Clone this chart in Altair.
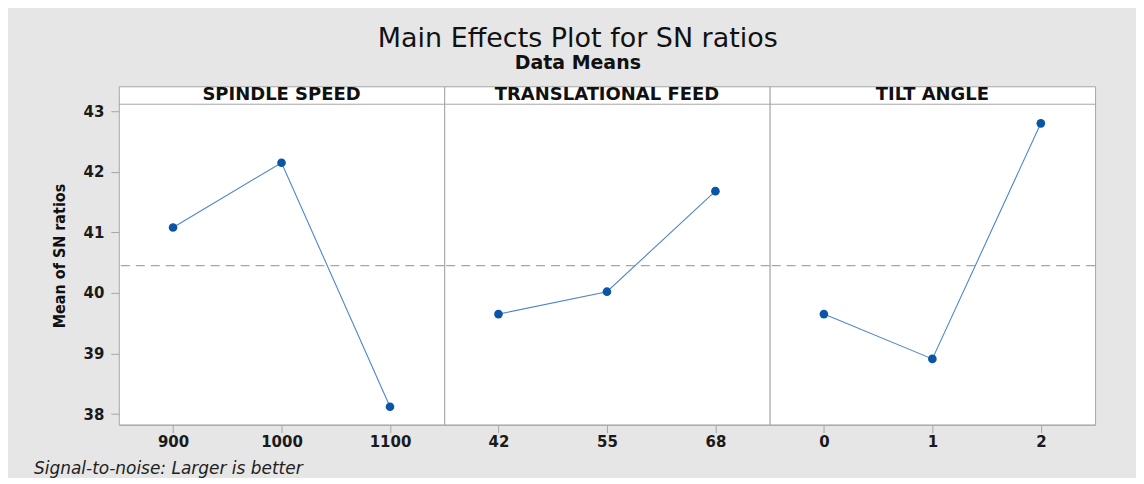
import altair as alt
import pandas as pd

# ---- data ----
factors = ["SPINDLE SPEED", "TRANSLATIONAL FEED", "TILT ANGLE"]
spindle_levels = ["900", "1000", "1100"]
spindle_sn = [41.08, 42.15, 38.12]
feed_levels = ["42", "55", "68"]
feed_sn = [39.65, 40.02, 41.68]
tilt_levels = ["0", "1", "2"]
tilt_sn = [39.65, 38.91, 42.80]
overall_mean = [40.45]
y_ticks = [38, 39, 40, 41, 42, 43]
footer_text = ["Signal-to-noise: Larger is better"]

# ---- layout / style ----
Y_DOMAIN = [37.824, 43.412]
W, H = 326, 339
STRIP = 18
FONT = "DejaVu Sans"
NARROW = "Liberation Sans Narrow, DejaVu Sans Condensed, sans-serif"
GRAY = "#a6a6a6"
LINE_C = "#4f86c9"
PT_C = "#0b55a6"
TXT = "#111111"


def panel(name, levels, values, first):
    df = pd.DataFrame({"level": levels, "sn": values})
    x = alt.X(
        "level:N",
        sort=levels,
        scale=alt.Scale(type="point", padding=0.5),
        axis=alt.Axis(title=None, labelAngle=0, labelFontSize=15, labelFontWeight="bold",
                      labelColor="#1a1a1a", labelFont=FONT, tickSize=8, tickColor=GRAY,
                      domainColor=GRAY, labelPadding=2),
    )
    yscale = alt.Scale(domain=Y_DOMAIN, nice=False, zero=False)
    if first:
        yaxis = alt.Axis(values=y_ticks, title="Mean of SN ratios", titleFontSize=16,
                         titleFont=NARROW, titleFontWeight="bold", titleColor=TXT,
                         labelFontSize=15, labelFont=FONT, labelFontWeight="bold",
                         labelColor="#1a1a1a", tickSize=8, tickColor=GRAY, domain=False,
                         grid=False, labelPadding=7, titlePadding=16)
    else:
        yaxis = None
    y = alt.Y("sn:Q", scale=yscale, axis=yaxis)

    base = alt.Chart(df)
    line = base.mark_line(color=LINE_C, strokeWidth=1.1).encode(x=x, y=y)
    pts = base.mark_circle(color=PT_C, size=75, opacity=1).encode(x=x, y=y)
    mean_df = pd.DataFrame({"m": overall_mean})
    mean_rule = alt.Chart(mean_df).mark_rule(color=GRAY, strokeDash=[9, 6], strokeWidth=1.2).encode(
        y=alt.Y("m:Q", scale=yscale, axis=yaxis)
    )
    head_df = pd.DataFrame({"f": [name]})
    strip_line = alt.Chart(head_df).mark_rule(color=GRAY, strokeWidth=1).encode(
        y=alt.value(STRIP), x=alt.value(0), x2=alt.value(W)
    )
    strip_text = alt.Chart(head_df).mark_text(
        font=FONT, fontSize=18, fontWeight="bold", color=TXT, baseline="alphabetic", align="center"
    ).encode(text="f:N", x=alt.value(W / 2), y=alt.value(14))
    layers = [mean_rule, line, pts, strip_line, strip_text]
    if first:
        foot_df = pd.DataFrame({"t": footer_text})
        foot = alt.Chart(foot_df).mark_text(
            font=FONT, fontSize=17, fontStyle="italic", color="#222", align="left", baseline="middle"
        ).encode(text="t:N", x=alt.value(-85), y=alt.value(H + 44))
        layers.append(foot)
    return alt.layer(*layers).properties(width=W, height=H)


chart = alt.hconcat(
    panel(factors[0], spindle_levels, spindle_sn, True),
    panel(factors[1], feed_levels, feed_sn, False),
    panel(factors[2], tilt_levels, tilt_sn, False),
    spacing=0,
    bounds="flush",
).properties(
    title=alt.TitleParams(
        text="Main Effects Plot for SN ratios",
        subtitle="Data Means",
        anchor="middle",
        frame="bounds",
        dx=13,
        font=FONT,
        fontSize=27,
        fontWeight="normal",
        color=TXT,
        subtitleFont=FONT,
        subtitleFontSize=19,
        subtitleFontWeight="bold",
        subtitleColor=TXT,
        subtitlePadding=1,
        offset=12,
    ),
    background="#e6e6e6",
    padding={"left": 25, "top": 16, "right": 39, "bottom": 0},
).configure_view(
    fill="white", stroke=GRAY, strokeWidth=1
).resolve_scale(y="shared")

chart.save("out.html", embed_options={"renderer": "svg", "actions": False})
